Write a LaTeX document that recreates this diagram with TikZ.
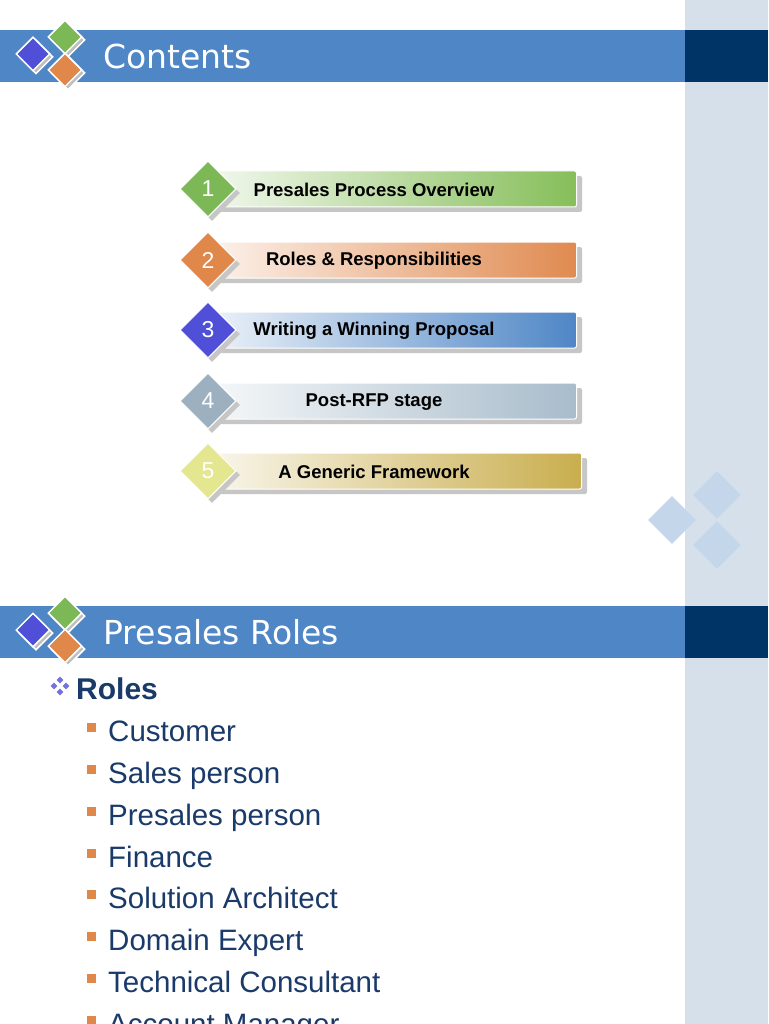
\documentclass[tikz,border=0pt]{standalone}
\usepackage{fontspec}
\setmainfont{Liberation Sans}
\newfontfamily\titlefont{DejaVu Sans}
\definecolor{hblue}{HTML}{4F86C6}
\definecolor{navy}{HTML}{003366}
\definecolor{side}{HTML}{D6E0EA}
\definecolor{dgreen}{HTML}{7DB857}
\definecolor{dorange}{HTML}{E0874A}
\definecolor{dblue}{HTML}{4F4FD8}
\definecolor{dgray}{HTML}{9CB0C0}
\definecolor{dyellow}{HTML}{E4E690}
\definecolor{bgreen}{HTML}{86BE5A}
\definecolor{borange}{HTML}{E08A50}
\definecolor{bblue}{HTML}{4F86C6}
\definecolor{bgray}{HTML}{A8BCCB}
\definecolor{bgold}{HTML}{C9AE4E}
\definecolor{txt}{HTML}{1A3A6A}
\definecolor{deco}{HTML}{C4D6EA}
\tikzset{
 ldia/.style={diamond,minimum size=34pt,inner sep=0pt,draw=white,line width=1.5pt},
 ndia/.style={diamond,minimum size=56pt,inner sep=0pt,text=white,font=\fontsize{23}{23}\selectfont},
 bar/.style={rounded corners=2pt,minimum height=36pt,anchor=west},
 bartext/.style={font=\bfseries\fontsize{18.5}{18.5}\selectfont},
 role/.style={anchor=base west,inner sep=0pt,text=txt,font=\fontsize{29.5}{29.5}\selectfont},
 bul/.style={fill=dorange,minimum size=9pt,inner sep=0pt},
}
\usetikzlibrary{shapes.geometric}
\begin{document}
\begin{tikzpicture}[x=1pt,y=-1pt]
\useasboundingbox (0,0) rectangle (768,1024);
\fill[white] (0,0) rectangle (768,1024);
\fill[side] (685,0) rectangle (768,1024);
\foreach \y in {30,606}{
 \fill[hblue] (0,\y) rectangle (685,\y+52);
 \fill[navy] (685,\y) rectangle (768,\y+52);
}
% logos
\foreach \y/\n in {0/a,576/b}{
 \node[ldia,fill=gray!50] at (36,57+\y) {};
 \node[ldia,fill=gray!50] at (68,40+\y) {};
 \node[ldia,fill=gray!50] at (68,73+\y) {};
 \node[ldia,fill=dblue] (l1\n) at (33,54+\y) {};
 \node[ldia,fill=dgreen] (l2\n) at (65,37+\y) {};
 \node[ldia,fill=dorange] (l3\n) at (65,70+\y) {};
}
\node[anchor=west,text=white,font=\titlefont\fontsize{33}{33}\selectfont] (t1) at (100,56) {Contents};
\node[anchor=west,text=white,font=\titlefont\fontsize{33}{33}\selectfont] (t2) at (100,632) {Presales Roles};
% items
\foreach \i/\y/\dc/\bc/\t/\w in {1/189/dgreen/bgreen/Presales Process Overview/362,2/260/dorange/borange/Roles \& Responsibilities/362,3/330/dblue/bblue/Writing a Winning Proposal/362,4/401/dgray/bgray/Post-RFP stage/362,5/471/dyellow/bgold/A Generic Framework/367}{
 \fill[gray!45,rounded corners=2pt] (220,\y-13) rectangle (220+\w,\y+23);
 \node[bar,minimum width=\w pt,left color=\bc!12,right color=\bc,draw=white,line width=1pt] (b\i) at (214,\y) {};
 \node[bartext] (bt\i) at (374,\y+1) {\t};
 \node[ndia,fill=gray!45] at (212,\y+4) {};
 \node[ndia,fill=\dc,draw=white,line width=1pt] (d\i) at (208,\y) {\i};
}
% deco
\foreach \x/\y/\n in {717/495/a,672/520/b,717/545/c}
 \node[diamond,minimum size=48pt,inner sep=0pt,fill=deco] (dd\n) at (\x,\y) {};
% roles
\node[diamond,fill=dblue!80,minimum size=7pt,inner sep=0pt] (r1) at (60,680) {};
\node[diamond,fill=dblue!80,minimum size=7pt,inner sep=0pt] (r2) at (54,686) {};
\node[diamond,fill=dblue!80,minimum size=7pt,inner sep=0pt] (r3) at (66,686) {};
\node[diamond,fill=dblue!80,minimum size=7pt,inner sep=0pt] (r4) at (60,692) {};
\node[anchor=base west,inner sep=0pt,text=txt,font=\bfseries\fontsize{30}{30}\selectfont] (roles) at (76,699) {Roles};
\foreach \y/\t [count=\k] in {731/Customer,773/Sales person,815/Presales person,857/Finance,898/Solution Architect,940/Domain Expert,982/Technical Consultant,1024/Account Manager}{
 \node[bul] (s\k) at (91,\y-4) {};
 \node[role] (n\k) at (108,\y+10) {\t};
}
\end{tikzpicture}
\end{document}
